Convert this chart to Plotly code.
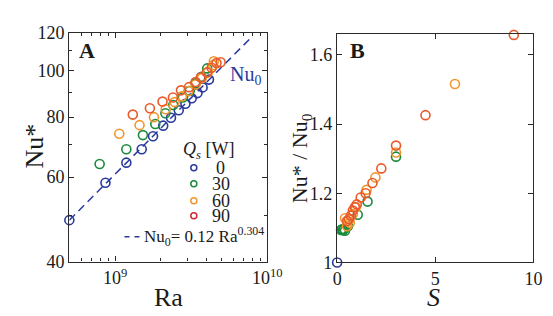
import plotly.graph_objects as go

W, H = 553, 316

# ---------------- data ----------------
qs_labels = ["0", "30", "60", "90"]
colors = ["#2a3a9c", "#1b8a3e", "#f2962c", "#e9592a"]
legend_colors = ["#2a3a9c", "#1b8a3e", "#f2962c", "#cf2a34"]

# Panel A : Nu* vs Ra
ra_q0 = [5.0e8, 8.64e8, 1.185e9, 1.496e9, 1.775e9, 2.07e9, 2.33e9, 2.62e9, 2.90e9, 3.19e9, 3.48e9, 3.76e9, 4.14e9]
nu_q0 = [48.8, 58.4, 64.3, 68.6, 73.0, 76.8, 79.8, 82.7, 85.3, 87.6, 89.8, 92.3, 95.8]
ra_q30 = [7.91e8, 1.185e9, 1.523e9, 1.837e9, 2.14e9, 2.41e9, 2.79e9, 3.09e9, 3.38e9, 3.69e9, 4.03e9]
nu_q30 = [63.9, 68.6, 73.4, 77.4, 81.5, 84.8, 87.9, 90.7, 94.1, 97.1, 101.1]
ra_q60 = [1.065e9, 1.447e9, 1.80e9, 2.15e9, 2.46e9, 2.75e9, 3.03e9, 3.38e9, 3.72e9, 4.08e9, 4.41e9, 4.46e9]
nu_q60 = [73.9, 77.0, 80.0, 83.1, 86.0, 88.4, 90.7, 93.6, 96.4, 99.3, 102.7, 104.6]
ra_q90 = [1.307e9, 1.692e9, 2.05e9, 2.40e9, 2.71e9, 3.06e9, 3.38e9, 3.66e9, 4.01e9, 4.31e9, 4.64e9, 4.94e9]
nu_q90 = [81.0, 83.5, 86.2, 87.9, 91.0, 92.4, 94.7, 96.8, 99.1, 101.4, 103.7, 104.1]

# Nu0 fit line end points (as drawn)
ra_fit = [5.0e8, 8.0e9]
nu_fit = [48.8, 118.0]

# Panel B : Nu*/Nu0 vs S
s_q0 = [0.0]
r_q0 = [1.0]
s_q30 = [0.2, 0.25, 0.3, 0.35, 0.4, 0.55, 1.05, 1.55, 3.0]
r_q30 = [1.094, 1.096, 1.093, 1.097, 1.092, 1.105, 1.138, 1.176, 1.306]
s_q60 = [0.4, 0.5, 0.55, 0.65, 0.8, 0.95, 1.5, 1.95, 3.0, 6.0]
r_q60 = [1.128, 1.105, 1.12, 1.115, 1.14, 1.16, 1.21, 1.246, 1.318, 1.516]
s_q90 = [0.5, 0.6, 0.7, 0.8, 0.9, 1.0, 1.2, 1.45, 1.8, 2.25, 3.0, 4.5, 9.0]
r_q90 = [1.12, 1.125, 1.135, 1.15, 1.16, 1.168, 1.188, 1.20, 1.23, 1.272, 1.338, 1.426, 1.658]

# tick values / labels
a_xticks = [1e9, 1e10]
a_xticktext = ["10<sup>9</sup>", "10<sup>10</sup>"]
a_xminor = [6e8, 7e8, 8e8, 9e8, 2e9, 3e9, 4e9, 5e9, 6e9, 7e9, 8e9, 9e9]
a_yticks = [40, 60, 80, 100, 120]
a_yminor = [50, 70, 90, 110]
b_xticks = [0, 5, 10]
b_yticks = [1.0, 1.2, 1.4, 1.6]
b_yticktext = ["1", "1.2", "1.4", "1.6"]

# ---------------- figure ----------------
FONT = "Times New Roman, Liberation Serif, Tinos, serif"
px = lambda x: x / W
py = lambda y: 1 - y / H

fig = go.Figure()

a_sets = [(ra_q0, nu_q0), (ra_q30, nu_q30), (ra_q60, nu_q60), (ra_q90, nu_q90)]
b_sets = [(s_q0, r_q0), (s_q30, r_q30), (s_q60, r_q60), (s_q90, r_q90)]

fig.add_trace(go.Scatter(x=ra_fit, y=nu_fit, mode="lines",
                         line=dict(color="#2a3a9c", width=1.5, dash="8px,5px"),
                         xaxis="x", yaxis="y", showlegend=False, hoverinfo="skip"))
for (xs, ys), c in zip(a_sets, colors):
    fig.add_trace(go.Scatter(x=xs, y=ys, mode="markers",
                             marker=dict(symbol="circle-open", size=9, color=c, line=dict(width=1.6, color=c)),
                             xaxis="x", yaxis="y", showlegend=False, cliponaxis=False))
for (xs, ys), c in zip(b_sets, colors):
    fig.add_trace(go.Scatter(x=xs, y=ys, mode="markers",
                             marker=dict(symbol="circle-open", size=9, color=c, line=dict(width=1.6, color=c)),
                             xaxis="x2", yaxis="y2", showlegend=False, cliponaxis=False))

axis_common = dict(showline=True, linecolor="#2b2b2b", linewidth=1.4, mirror="allticks",
                   ticks="inside", ticklen=5, tickwidth=1, tickcolor="#2b2b2b",
                   showgrid=False, zeroline=False,
                   tickfont=dict(family=FONT, size=18, color="#1a1a1a"))

fig.update_layout(
    width=W, height=H,
    margin=dict(l=0, r=0, t=0, b=0),
    paper_bgcolor="white", plot_bgcolor="white",
    xaxis=dict(domain=[px(59.3), px(264.3)], type="log", range=[8.6985, 10.0],
               tickvals=a_xticks, ticktext=a_xticktext,
               minor=dict(tickvals=a_xminor, ticks="inside", ticklen=3, tickcolor="#2b2b2b"),
               anchor="y", **axis_common),
    yaxis=dict(domain=[py(260), py(15.7)], type="log", range=[1.60206, 2.07918],
               tickvals=a_yticks, ticktext=[str(v) for v in a_yticks],
               minor=dict(tickvals=a_yminor, ticks="inside", ticklen=3, tickcolor="#2b2b2b"),
               anchor="x", **axis_common),
    xaxis2=dict(domain=[px(336.7), px(540)], range=[0, 10],
                tickvals=b_xticks, ticktext=[str(v) for v in b_xticks],
                anchor="y2", **axis_common),
    yaxis2=dict(domain=[py(261), py(17.3)], range=[1.0, 1.66],
                tickvals=b_yticks, ticktext=b_yticktext,
                anchor="x2", **axis_common),
)

ann = []
def add_text(x, y, text, size, **kw):
    d = dict(xref="paper", yref="paper", x=px(x), y=py(y), text=text, showarrow=False,
             xanchor="center", yanchor="middle",
             font=dict(family=FONT, size=size, color=kw.pop("color", "#1a1a1a")))
    d.update(kw)
    ann.append(d)

# axis titles
add_text(162, 298, "Ra", 26)
add_text(23, 137, "Nu*", 26, textangle=-90)
add_text(437, 298, "<i>S</i>", 26)
add_text(299, 150, "Nu* / Nu<sub>0</sub>", 22, textangle=-90)
# panel letters
add_text(78, 35, "<b>A</b>", 22)
add_text(358, 35, "<b>B</b>", 22)
# Nu0 label
add_text(242, 61, "Nu<sub>0</sub>", 20, color="#2a3a9c")
# legend
add_text(204, 141, "<i>Q<sub>s</sub></i> [W]", 18)
leg_y = [160, 177, 195, 211]
shapes = []
for lab, c, yy in zip(qs_labels, legend_colors, leg_y):
    add_text(216, yy, lab, 18)
    shapes.append(dict(type="circle", xref="paper", yref="paper",
                       xsizemode="pixel", ysizemode="pixel",
                       xanchor=px(188.3), yanchor=py(yy),
                       x0=-3, x1=3, y0=-3, y1=3,
                       line=dict(color=c, width=1.5)))
shapes.append(dict(type="line", xref="paper", yref="paper",
                   x0=px(116.5), x1=px(132), y0=py(233.5), y1=py(233.5),
                   line=dict(color="#2a3a9c", width=1.5, dash="5px,5px")))
add_text(135, 233, "Nu<sub>0</sub>= 0.12 Ra<sup>0.304</sup>", 17, xanchor="left")

fig.update_layout(annotations=ann, shapes=shapes)
fig.write_html("out.html")
